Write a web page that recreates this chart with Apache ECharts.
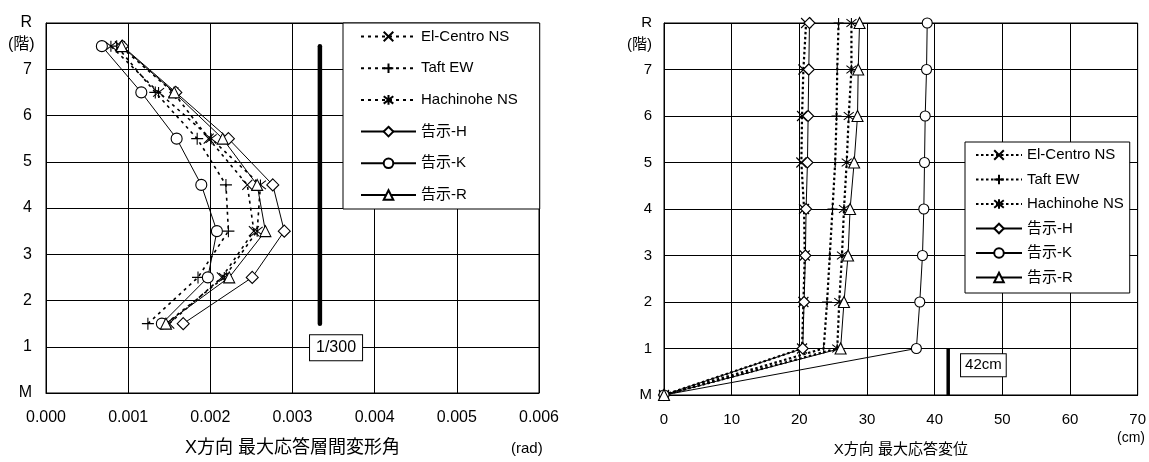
<!DOCTYPE html>
<html>
<head>
<meta charset="utf-8">
<script src="https://cdn.jsdelivr.net/npm/echarts@6/dist/echarts.min.js"></script>
<style>
html,body{margin:0;padding:0;background:#fff;}
#chart{width:1149px;height:462px;}
</style>
</head>
<body>
<div id="chart"></div>
<script>
// ---- data ----
const seriesNames = ['El-Centro NS', 'Taft EW', 'Hachinohe NS', '告示-H', '告示-K', '告示-R'];
const floorTickLabels = ['M', '1', '2', '3', '4', '5', '6', '7', 'R'];

// Left chart: story drift angle (rad) at mid-story positions
const driftFloors = [1.5, 2.5, 3.5, 4.5, 5.5, 6.5, 7.5];
const driftElCentro  = [0.00150, 0.00214, 0.00253, 0.00245, 0.00198, 0.00155, 0.00090];
const driftTaft      = [0.00124, 0.00185, 0.00222, 0.00219, 0.00184, 0.00133, 0.00086];
const driftHachinohe = [0.00146, 0.00217, 0.00257, 0.00261, 0.00201, 0.00137, 0.00079];
const driftH         = [0.00167, 0.00251, 0.00290, 0.00276, 0.00222, 0.00158, 0.00093];
const driftK         = [0.00141, 0.00197, 0.00208, 0.00189, 0.00159, 0.00116, 0.00068];
const driftR         = [0.00146, 0.00223, 0.00267, 0.00257, 0.00215, 0.00156, 0.00092];
const driftLimit = 1 / 300;
const driftLimitSpan = [1.5, 7.5];

// Right chart: max response displacement (cm) at floor levels
const dispFloors = [0, 1, 2, 3, 4, 5, 6, 7, 8];
const dispElCentro  = [0, 20.4, 20.6, 20.8, 20.7, 20.3, 20.4, 20.6, 21.0];
const dispTaft      = [0, 23.6, 24.1, 24.5, 24.9, 25.3, 25.5, 25.6, 25.8];
const dispHachinohe = [0, 25.6, 25.9, 26.3, 26.6, 27.0, 27.3, 27.7, 27.7];
const dispH         = [0, 20.5, 20.7, 20.9, 21.0, 21.2, 21.3, 21.4, 21.5];
const dispK         = [0, 37.3, 37.8, 38.2, 38.4, 38.5, 38.6, 38.8, 38.9];
const dispR         = [0, 26.1, 26.6, 27.2, 27.5, 28.1, 28.6, 28.7, 28.9];
const dispLimit = 42;
const dispLimitSpan = [0, 1];

// ---- styles ----
const FONT = "'Liberation Sans', Arial, 'Noto Sans CJK JP', sans-serif";
const SYM_X = 'path://M0,0L10,10M10,0L0,10';
const SYM_PLUS = 'path://M5,0L5,10M0,5L10,5';
const SYM_STAR = 'path://M0,0L10,10M10,0L0,10M5,-1.5L5,11.5';
const symbols = [SYM_X, SYM_PLUS, SYM_STAR, 'diamond', 'circle', 'triangle'];
const leftSizes = [10, 12, 11, 12, 11, 11];
const rightSizes = [10, 10, 10, 11, 10, 11];
const leftLine = [
  {type: [3, 4], width: 1.6}, {type: [3, 4], width: 1.6}, {type: [3, 4], width: 1.6},
  {type: 'solid', width: 1}, {type: 'solid', width: 1}, {type: 'solid', width: 1}
];
const rightLine = [
  {type: [2.5, 2.5], width: 2.2}, {type: [2.5, 2.5], width: 2.2}, {type: [2.5, 2.5], width: 2.2},
  {type: 'solid', width: 1}, {type: 'solid', width: 1}, {type: 'solid', width: 1}
];

const driftData = [driftElCentro, driftTaft, driftHachinohe, driftH, driftK, driftR];
const dispData = [dispElCentro, dispTaft, dispHachinohe, dispH, dispK, dispR];

function makeSeries(name, xs, floors, axisIdx, sym, size, ls) {
  return {
    type: 'line', name: name, xAxisIndex: axisIdx, yAxisIndex: axisIdx,
    data: floors.map((f, i) => [xs[i], f]),
    symbol: sym, symbolSize: size, showAllSymbol: true,
    itemStyle: {color: '#fff', borderColor: '#000', borderWidth: 1.1},
    lineStyle: {color: '#000', width: ls.width, type: ls.type},
    emphasis: {disabled: true}, clip: false, z: 3
  };
}

const series = [];
seriesNames.forEach((n, i) => {
  series.push(makeSeries(n, driftData[i], driftFloors, 0, symbols[i], leftSizes[i], leftLine[i]));
});
seriesNames.forEach((n, i) => {
  series.push(makeSeries(n + '#2', dispData[i], dispFloors, 1, symbols[i], rightSizes[i], rightLine[i]));
});
// 1/300 limit line and label
series.push({
  type: 'line', xAxisIndex: 0, yAxisIndex: 0, symbol: 'none', silent: true,
  data: driftLimitSpan.map(f => [driftLimit, f]),
  lineStyle: {color: '#000', width: 4.5, cap: 'round'}, z: 2
});
series.push({
  type: 'scatter', xAxisIndex: 0, yAxisIndex: 0, symbolSize: 0, silent: true,
  itemStyle: {opacity: 1},
  data: [[0.00353, 0.98]],
  label: {show: true, position: 'inside', formatter: '1/300', color: '#000', fontSize: 16, fontFamily: FONT,
          backgroundColor: '#fff', borderColor: '#000', borderWidth: 1, padding: [5, 6, 4, 6], opacity: 1}, z: 4
});
// 42cm limit line and label
series.push({
  type: 'line', xAxisIndex: 1, yAxisIndex: 1, symbol: 'none', silent: true,
  data: dispLimitSpan.map(f => [dispLimit, f]),
  lineStyle: {color: '#000', width: 3.5}, z: 2
});
series.push({
  type: 'scatter', xAxisIndex: 1, yAxisIndex: 1, symbolSize: 0, silent: true,
  itemStyle: {opacity: 1},
  data: [[47.2, 0.64]],
  label: {show: true, position: 'inside', formatter: '42cm', color: '#000', fontSize: 15, fontFamily: FONT,
          backgroundColor: '#fff', borderColor: '#000', borderWidth: 1, padding: [4, 4, 3, 4], opacity: 1}, z: 4
});

function yAxisCfg(gridIndex, fs, margin) {
  return {
    type: 'value', gridIndex: gridIndex, min: 0, max: 8, interval: 1,
    axisLine: {show: true, lineStyle: {color: '#000', width: 1}},
    axisTick: {show: false},
    axisLabel: {color: '#000', fontSize: fs, fontFamily: FONT, margin: margin,
                formatter: v => floorTickLabels[Math.round(v)]},
    splitLine: {show: true, lineStyle: {color: '#000', width: 1}}
  };
}

const chart = echarts.init(document.getElementById('chart'), null, {renderer: 'canvas'});
const option = {
  animation: false,
  backgroundColor: '#fff',
  textStyle: {fontFamily: FONT},
  grid: [
    {left: 46, top: 23, width: 493, height: 377, show: true, borderColor: '#000', borderWidth: 1, containLabel: false},
    {left: 664, top: 23, width: 479, height: 373, show: true, borderColor: '#000', borderWidth: 1, containLabel: false}
  ],
  xAxis: [
    {
      type: 'value', gridIndex: 0, min: 0, max: 0.006, interval: 0.001,
      axisLine: {show: true, lineStyle: {color: '#000'}}, axisTick: {show: false},
      axisLabel: {color: '#000', fontSize: 16, fontFamily: FONT, margin: 17, formatter: v => v.toFixed(3)},
      splitLine: {show: true, lineStyle: {color: '#000', width: 1}},
      name: 'X方向 最大応答層間変形角', nameLocation: 'middle', nameGap: 46,
      nameTextStyle: {color: '#000', fontSize: 18, fontFamily: FONT}
    },
    {
      type: 'value', gridIndex: 1, min: 0, max: 70, interval: 10,
      axisLine: {show: true, lineStyle: {color: '#000'}}, axisTick: {show: false},
      axisLabel: {color: '#000', fontSize: 15, fontFamily: FONT, margin: 17},
      splitLine: {show: true, lineStyle: {color: '#000', width: 1}},
      name: 'X方向 最大応答変位', nameLocation: 'middle', nameGap: 47,
      nameTextStyle: {color: '#000', fontSize: 15, fontFamily: FONT}
    }
  ],
  yAxis: [yAxisCfg(0, 16, 14), yAxisCfg(1, 15, 12)],
  legend: [
    {
      orient: 'vertical', left: 343, top: 23, itemWidth: 55, itemHeight: 12, itemGap: 16.7,
      padding: [6, 22, 6.5, 17], backgroundColor: '#fff', borderColor: '#000', borderWidth: 1,
      textStyle: {color: '#000', fontSize: 15, fontFamily: FONT},
      data: seriesNames, selectedMode: false, z: 5
    },
    {
      orient: 'vertical', left: 965, top: 142, itemWidth: 46, itemHeight: 12, itemGap: 9.5,
      padding: [5.5, 6, 8, 10], backgroundColor: '#fff', borderColor: '#000', borderWidth: 1,
      textStyle: {color: '#000', fontSize: 15, fontFamily: FONT},
      formatter: n => n.split('#')[0],
      data: seriesNames.map(n => n + '#2'), selectedMode: false, z: 5
    }
  ],
  series: series
};
chart.setOption(option);

// extra texts: "(階)" beside the floor axes and unit labels
const yL = chart.convertToPixel({yAxisIndex: 0}, 7.5);
const yR = chart.convertToPixel({yAxisIndex: 1}, 7.5);
chart.setOption({
  graphic: [
    {type: 'text', left: 8, top: yL - 10, style: {text: '(階)', fontSize: 16, fontFamily: FONT, fill: '#000'}},
    {type: 'text', left: 627, top: yR - 9, style: {text: '(階)', fontSize: 15, fontFamily: FONT, fill: '#000'}},
    {type: 'text', left: 511, top: 441, style: {text: '(rad)', fontSize: 15, fontFamily: FONT, fill: '#000'}},
    {type: 'text', left: 1117, top: 431, style: {text: '(cm)', fontSize: 14, fontFamily: FONT, fill: '#000'}}
  ]
});
</script>
</body>
</html>
